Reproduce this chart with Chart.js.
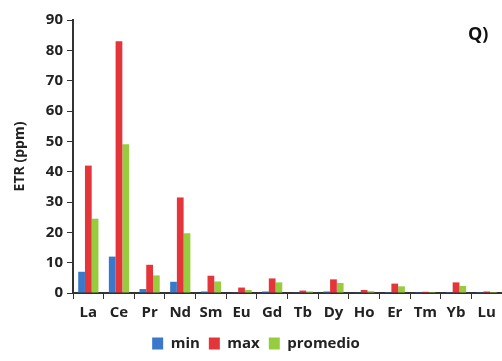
<!DOCTYPE html>
<html>
<head>
  <meta charset="UTF-8">
  <title>ETR</title>
  <script src="https://cdn.jsdelivr.net/npm/chart.js"></script>
  <style>
    body { margin: 0; background: #fff; }
    canvas { display: block; }
  </style>
</head>
<body>
  <canvas id="etrChart" width="502" height="361"></canvas>
  <script>
    const elements = ['La', 'Ce', 'Pr', 'Nd', 'Sm', 'Eu', 'Gd', 'Tb', 'Dy', 'Ho', 'Er', 'Tm', 'Yb', 'Lu'];
    const minVals = [7, 12, 1.3, 3.7, 0.5, 0.1, 0.5, 0.1, 0.5, 0.1, 0.3, 0.05, 0.3, 0.05];
    const maxVals = [42, 83, 9.3, 31.5, 5.7, 1.8, 4.8, 0.8, 4.5, 1.0, 3.1, 0.4, 3.5, 0.5];
    const avgVals = [24.5, 49, 5.8, 19.7, 3.8, 1.0, 3.5, 0.5, 3.3, 0.6, 2.2, 0.3, 2.3, 0.35];
    const yTicks = [0, 10, 20, 30, 40, 50, 60, 70, 80, 90];

    const FONT = "'Open Sans', 'DejaVu Sans', sans-serif";

    // panel letter in the top right corner
    const panelLabel = {
      id: 'panelLabel',
      afterDraw(chart) {
        const c = chart.ctx;
        c.save();
        c.font = "bold 18px " + FONT;
        c.fillStyle = '#111';
        c.textAlign = 'left';
        c.textBaseline = 'middle';
        c.fillText('Q)', 468, 35);
        c.restore();
      }
    };

    new Chart(document.getElementById('etrChart'), {
      type: 'bar',
      data: {
        labels: elements,
        datasets: [
          { label: 'min', data: minVals, backgroundColor: '#3a78c9' },
          { label: 'max', data: maxVals, backgroundColor: '#e4353b' },
          { label: 'promedio', data: avgVals, backgroundColor: '#97cc3e' }
        ]
      },
      options: {
        responsive: false,
        animation: false,
        layout: { padding: { top: 20, right: 0, left: 10, bottom: 0 } },
        datasets: { bar: { categoryPercentage: 0.66, barPercentage: 1 } },
        plugins: {
          tooltip: { enabled: false },
          legend: {
            position: 'bottom',
            labels: {
              boxWidth: 11, boxHeight: 12, padding: 9,
              color: '#222',
              font: { family: FONT, size: 15, weight: 'bold' }
            }
          }
        },
        scales: {
          x: {
            grid: { display: true, drawOnChartArea: false, drawTicks: true, tickLength: 6, color: '#333' },
            border: { display: true, color: '#333', width: 2 },
            ticks: { color: '#222', padding: 5, font: { family: FONT, size: 15, weight: 'bold' } }
          },
          y: {
            min: 0, max: 90,
            afterBuildTicks(scale) { scale.ticks = yTicks.map(v => ({ value: v })); },
            afterFit(scale) { scale.width = 63; },
            grid: { display: true, drawOnChartArea: false, drawTicks: true, tickLength: 6, color: '#333' },
            border: { display: true, color: '#333', width: 2 },
            ticks: { color: '#222', padding: 4, font: { family: FONT, size: 15, weight: 'bold' } },
            title: {
              display: true, text: 'ETR (ppm)', color: '#222', padding: 2,
              font: { family: FONT, size: 14, weight: 'bold' }
            }
          }
        }
      },
      plugins: [panelLabel]
    });
  </script>
</body>
</html>
